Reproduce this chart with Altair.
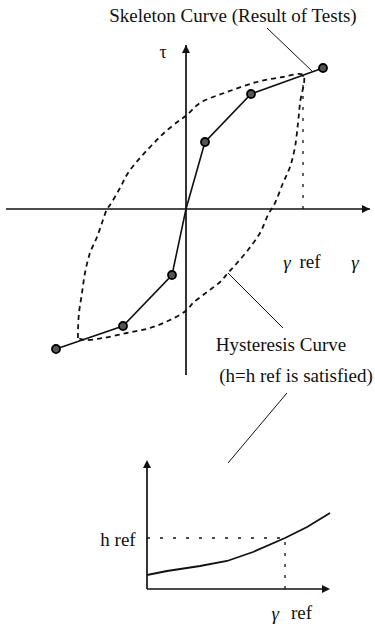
import altair as alt
import pandas as pd

# ---------------- upper diagram: tau-gamma relation ----------------
# Skeleton curve (result of tests)
skel_gamma = [-1.30, -0.63, -0.14, 0.00, 0.19, 0.65, 1.37]
skel_tau = [-1.40, -1.17, -0.66, 0.00, 0.67, 1.15, 1.41]
skel_marked = [True, True, True, False, True, True, True]

# Hysteresis loop through (gamma_ref, tau_ref): rising branch, then falling branch
loop_up_gamma = [-1.08, -1.08, -1.07, -1.04, -1.01, -0.96, -0.89, -0.83, -0.79, -0.76, -0.66, -0.58,
                 -0.46, -0.34, -0.21, -0.06, 0.01, 0.14, 0.41, 0.71, 0.97, 1.17]
loop_up_tau = [-1.29, -1.21, -1.04, -0.84, -0.64, -0.44, -0.28, -0.11, 0.00, 0.04, 0.21, 0.36,
               0.51, 0.64, 0.77, 0.89, 0.94, 1.06, 1.17, 1.27, 1.32, 1.34]
loop_dn_gamma = [1.17, 1.14, 1.12, 1.09, 1.04, 0.97, 0.89, 0.82, 0.74, 0.62, 0.51, 0.42, 0.34, 0.21,
                 0.07, 0.01, -0.16, -0.36, -0.59, -0.83, -1.01, -1.08]
loop_dn_tau = [1.34, 1.06, 0.86, 0.62, 0.42, 0.26, 0.06, -0.06, -0.24, -0.41, -0.54, -0.64, -0.73, -0.83,
               -0.94, -1.01, -1.11, -1.19, -1.24, -1.29, -1.31, -1.29]

gamma_ref = 1.17
tau_ref = 1.34

# ---------------- lower diagram: h versus gamma ----------------
ratio = [0.00, 0.145, 0.384, 0.58, 0.768, 1.00, 1.16, 1.326]  # gamma / gamma_ref
h_vals = [0.07, 0.09, 0.115, 0.14, 0.185, 0.255, 0.31, 0.38]
h_ref = 0.255

FONT = "Liberation Serif"
INK = "#111111"
FS = 19
W = 375
H_TOP = 390
H_BOT = 248

up_arrow = "M0,0L1,2L-1,2Z"
right_arrow = "M0,0L-2,-1L-2,1Z"

# ---- upper panel ----
xs_top = alt.Scale(domain=[-1.86, 1.89], nice=False, zero=False)
ys_top = alt.Scale(domain=[-1.81, 2.09], nice=False, zero=False)
X = lambda f: alt.X(f, type="quantitative", scale=xs_top, axis=None)
Y = lambda f: alt.Y(f, type="quantitative", scale=ys_top, axis=None)

skel_df = pd.DataFrame({"g": skel_gamma, "t": skel_tau, "i": range(len(skel_gamma)), "m": skel_marked})
loop_g = loop_up_gamma + loop_dn_gamma[1:]
loop_t = loop_up_tau + loop_dn_tau[1:]
loop_df = pd.DataFrame({"g": loop_g, "t": loop_t, "i": range(len(loop_g))})

axes_top = pd.DataFrame({"x1": [-1.80, 0.0], "x2": [1.84, 0.0], "y1": [0.0, -1.66], "y2": [0.0, 1.64]})
axis_rules_top = alt.Chart(axes_top).mark_rule(color=INK, strokeWidth=1.7).encode(
    x=X("x1"), x2="x2", y=Y("y1"), y2="y2"
)
arrows_top = alt.layer(
    alt.Chart(pd.DataFrame({"g": [0.0], "t": [1.64]})).mark_point(
        shape=up_arrow, size=64, filled=True, color=INK, opacity=1
    ).encode(x=X("g"), y=Y("t")),
    alt.Chart(pd.DataFrame({"g": [1.84], "t": [0.0]})).mark_point(
        shape=right_arrow, size=64, filled=True, color=INK, opacity=1
    ).encode(x=X("g"), y=Y("t")),
)

loop_line = alt.Chart(loop_df).mark_line(
    color=INK, strokeWidth=1.8, strokeDash=[5, 4], interpolate="catmull-rom"
).encode(x=X("g"), y=Y("t"), order="i:Q")

ref_line_top = alt.Chart(pd.DataFrame({"g": [gamma_ref], "t1": [0.0], "t2": [tau_ref]})).mark_rule(
    color=INK, strokeWidth=1.3, strokeDash=[3, 8]
).encode(x=X("g"), y=Y("t1"), y2="t2")

skel_line = alt.Chart(skel_df).mark_line(color=INK, strokeWidth=1.6).encode(
    x=X("g"), y=Y("t"), order="i:Q"
)
skel_pts = alt.Chart(skel_df).transform_filter("datum.m").mark_point(
    filled=True, fill="#555555", stroke="#000000", strokeWidth=1.8, size=64, opacity=1
).encode(x=X("g"), y=Y("t"))

leaders_top = pd.DataFrame({
    "g1": [0.81, 0.42], "t1": [1.81, -0.64],
    "g2": [1.27, 0.97], "t2": [1.37, -1.19],
})
leader_rules_top = alt.Chart(leaders_top).mark_rule(color=INK, strokeWidth=1.0).encode(
    x=X("g1"), y=Y("t1"), x2="g2", y2="t2"
)

labels_top = pd.DataFrame({
    "txt": ["Skeleton Curve (Result of Tests)", "ref", "Hysteresis Curve", "(h=h ref is satisfied)", "τ"],
    "g": [0.47, 1.24, 0.95, 1.10, -0.23],
    "t": [1.93, -0.53, -1.36, -1.67, 1.56],
    "fs": [FS, FS, FS, FS, 18],
})
text_top = alt.Chart(labels_top).mark_text(
    font=FONT, color=INK, align="center", baseline="middle"
).encode(x=X("g"), y=Y("t"), text="txt:N", size=alt.Size("fs:Q", scale=None, legend=None))

greek_top = pd.DataFrame({
    "txt": ["γ", "γ"],
    "g": [1.01, 1.69],
    "t": [-0.54, -0.54],
})
text_greek_top = alt.Chart(greek_top).mark_text(
    font=FONT, color=INK, fontSize=FS, fontStyle="italic", align="center", baseline="middle"
).encode(x=X("g"), y=Y("t"), text="txt:N")

top = alt.layer(
    loop_line, ref_line_top, axis_rules_top, arrows_top, skel_line, skel_pts,
    leader_rules_top, text_top, text_greek_top
).properties(width=W, height=H_TOP)

# ---- lower panel ----
xs_bot = alt.Scale(domain=[-1.065, 1.652], nice=False, zero=False)
ys_bot = alt.Scale(domain=[-0.245, 0.995], nice=False, zero=False)
XB = lambda f: alt.X(f, type="quantitative", scale=xs_bot, axis=None)
YB = lambda f: alt.Y(f, type="quantitative", scale=ys_bot, axis=None)

axes_bot = pd.DataFrame({"x1": [0.0, 0.0], "x2": [1.30, 0.0], "y1": [0.0, 0.0], "y2": [0.0, 0.625]})
axis_rules_bot = alt.Chart(axes_bot).mark_rule(color=INK, strokeWidth=1.7).encode(
    x=XB("x1"), x2="x2", y=YB("y1"), y2="y2"
)
arrows_bot = alt.layer(
    alt.Chart(pd.DataFrame({"g": [0.0], "h": [0.645]})).mark_point(
        shape=up_arrow, size=64, filled=True, color=INK, opacity=1
    ).encode(x=XB("g"), y=YB("h")),
    alt.Chart(pd.DataFrame({"g": [1.326], "h": [0.0]})).mark_point(
        shape=right_arrow, size=64, filled=True, color=INK, opacity=1
    ).encode(x=XB("g"), y=YB("h")),
)

h_df = pd.DataFrame({"r": ratio, "h": h_vals})
h_line = alt.Chart(h_df).mark_line(color=INK, strokeWidth=1.8).encode(x=XB("r"), y=YB("h"))

ref_h = alt.Chart(pd.DataFrame({"r1": [0.0], "r2": [1.0], "h": [h_ref]})).mark_rule(
    color=INK, strokeWidth=1.3, strokeDash=[3, 10]
).encode(x=XB("r1"), x2="r2", y=YB("h"))
ref_g = alt.Chart(pd.DataFrame({"r": [1.0], "h1": [0.0], "h2": [h_ref]})).mark_rule(
    color=INK, strokeWidth=1.3, strokeDash=[3, 8]
).encode(x=XB("r"), y=YB("h1"), y2="h2")

leader_bot = alt.Chart(pd.DataFrame({"r1": [1.014], "h1": [0.98], "r2": [0.587], "h2": [0.63]})).mark_rule(
    color=INK, strokeWidth=1.0
).encode(x=XB("r1"), y=YB("h1"), x2="r2", y2="h2")

labels_bot = pd.DataFrame({
    "txt": ["h ref", "ref"],
    "r": [-0.21, 1.12],
    "h": [0.245, -0.12],
})
text_bot = alt.Chart(labels_bot).mark_text(
    font=FONT, color=INK, fontSize=FS, align="center", baseline="middle"
).encode(x=XB("r"), y=YB("h"), text="txt:N")
greek_bot = alt.Chart(pd.DataFrame({"txt": ["γ"], "r": [0.93], "h": [-0.125]})).mark_text(
    font=FONT, color=INK, fontSize=FS, fontStyle="italic", align="center", baseline="middle"
).encode(x=XB("r"), y=YB("h"), text="txt:N")

bottom = alt.layer(
    ref_h, ref_g, axis_rules_bot, arrows_bot, h_line, leader_bot, text_bot, greek_bot
).properties(width=W, height=H_BOT)

chart = alt.vconcat(top, bottom, spacing=0).properties(
    padding=0, background="white"
).configure_view(strokeWidth=0)

chart.save("out.html", embed_options={"renderer": "svg", "actions": False})
